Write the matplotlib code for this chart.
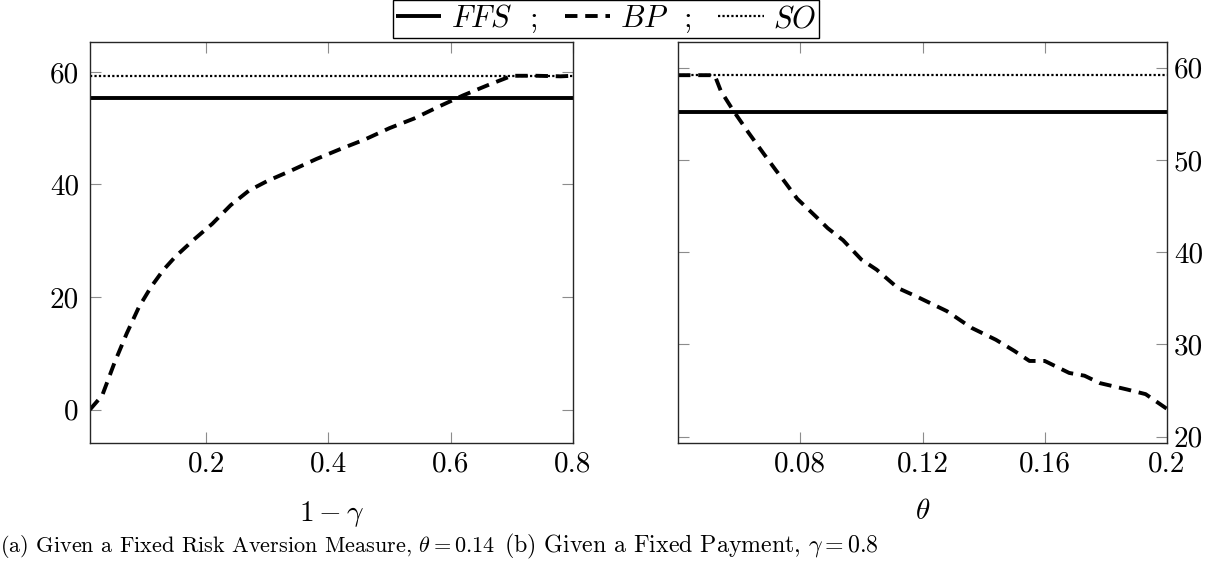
import matplotlib
matplotlib.use("Agg")
import matplotlib.pyplot as plt
from matplotlib.lines import Line2D

plt.rcParams['font.family'] = 'serif'
plt.rcParams['font.serif'] = ['cmr10', 'DejaVu Serif']
plt.rcParams['mathtext.fontset'] = 'cm'
plt.rcParams['axes.unicode_minus'] = False
plt.rcParams['axes.formatter.use_mathtext'] = False

# ---- data: panel (a) ----
a_x = [0.01, 0.03, 0.05, 0.07, 0.09, 0.11, 0.13, 0.15, 0.18, 0.21, 0.24, 0.27,
       0.30, 0.34, 0.38, 0.42, 0.46, 0.50, 0.54, 0.58, 0.62, 0.66, 0.70, 0.74,
       0.78, 0.80]
a_bp = [0.0, 2.5, 8.3, 13.5, 18.2, 21.8, 24.8, 27.2, 30.2, 33.0, 36.3, 38.9,
        40.6, 42.5, 44.5, 46.3, 48.0, 50.0, 51.7, 53.8, 55.8, 57.6, 59.3, 59.3,
        59.2, 59.3]
a_ffs = 55.3
a_so = 59.3

# ---- data: panel (b) ----
b_x = [0.04, 0.048, 0.052, 0.054, 0.058, 0.063, 0.068, 0.072, 0.075, 0.079,
       0.085, 0.089, 0.094, 0.100, 0.105, 0.112, 0.118, 0.128, 0.136, 0.144,
       0.150, 0.155, 0.160, 0.168, 0.173, 0.178, 0.187, 0.193, 0.200]
b_bp = [59.2, 59.2, 59.2, 57.5, 55.4, 53.0, 50.7, 48.9, 47.6, 45.8,
        43.9, 42.6, 41.3, 39.2, 38.1, 36.1, 35.2, 33.6, 31.8, 30.5,
        29.3, 28.2, 28.2, 26.9, 26.6, 25.8, 25.1, 24.6, 23.0]
b_ffs = 55.2
b_so = 59.2

a_xticks = [0.2, 0.4, 0.6, 0.8]
a_yticks = [0, 20, 40, 60]
b_xticks = [0.08, 0.12, 0.16, 0.2]
b_yticks = [20, 30, 40, 50, 60]

W, H = 1214, 564
fig = plt.figure(figsize=(W / 100, H / 100), dpi=100)

def ax_at(x0, y0, x1, y1):
    return fig.add_axes([x0 / W, 1 - y1 / H, (x1 - x0) / W, (y1 - y0) / H])

axA = ax_at(90, 42, 573, 443)
axB = ax_at(678, 42, 1167, 443)

ffs_kw = dict(color='black', lw=2.8, solid_capstyle='butt')
bp_kw = dict(color='black', lw=2.8, dashes=(3.2, 2.0))
so_kw = dict(color='black', lw=1.6, dashes=(1.0, 1.0))

for ax, xs, bp, ffs, so in [(axA, a_x, a_bp, a_ffs, a_so),
                             (axB, b_x, b_bp, b_ffs, b_so)]:
    ax.axhline(so, **so_kw)
    ax.axhline(ffs, **ffs_kw)
    ax.plot(xs, bp, **bp_kw)

TICK_FS = 21

axA.set_xlim(0.01, 0.8)
axA.set_ylim(-5.95, 65.3)
axA.set_xticks(a_xticks)
axA.set_xticklabels(['0.2', '0.4', '0.6', '0.8'])
axA.set_yticks(a_yticks)
axA.set_xlabel(r'$1-\gamma$', fontsize=TICK_FS, labelpad=15)

axB.set_xlim(0.04, 0.2)
axB.set_ylim(19.3, 62.8)
axB.set_xticks(b_xticks)
axB.set_xticklabels(['0.08', '0.12', '0.16', '0.2'])
axB.set_yticks(b_yticks)
axB.yaxis.tick_right()
axB.set_xlabel(r'$\theta$', fontsize=TICK_FS, labelpad=15)

for ax in (axA, axB):
    ax.tick_params(direction='in', length=8, width=0.8, color='0.55',
                   labelsize=TICK_FS, top=True, bottom=True, left=True,
                   right=True)
    ax.tick_params(axis='x', pad=6)
    for s in ax.spines.values():
        s.set_linewidth(1.0)
        s.set_color('0.15')
axA.tick_params(axis='y', pad=8)
axB.tick_params(axis='y', pad=5, labelleft=False, labelright=True)

handles = [Line2D([], [], **ffs_kw), Line2D([], [], **bp_kw),
           Line2D([], [], **so_kw)]
labels = [r'$FFS$  ;', r'$BP$  ;', r'$SO$']
leg = fig.legend(handles, labels, loc='upper center', ncol=3,
                 bbox_to_anchor=(606 / W, 1.0), fontsize=22, frameon=True,
                 fancybox=False, edgecolor='black', framealpha=1,
                 handlelength=1.5, handletextpad=0.3, columnspacing=0.9,
                 borderpad=0.1, borderaxespad=0.0)
leg.get_frame().set_linewidth(1.0)

fig.text(0 / W, 1 - 546 / H,
         r'(a) Given a Fixed Risk Aversion Measure, $\theta = 0.14$',
         ha='left', va='center', fontsize=16.0)
fig.text(504 / W, 1 - 546 / H,
         r'(b) Given a Fixed Payment, $\gamma = 0.8$',
         ha='left', va='center', fontsize=17.2)

fig.savefig('out.png', dpi=100)
